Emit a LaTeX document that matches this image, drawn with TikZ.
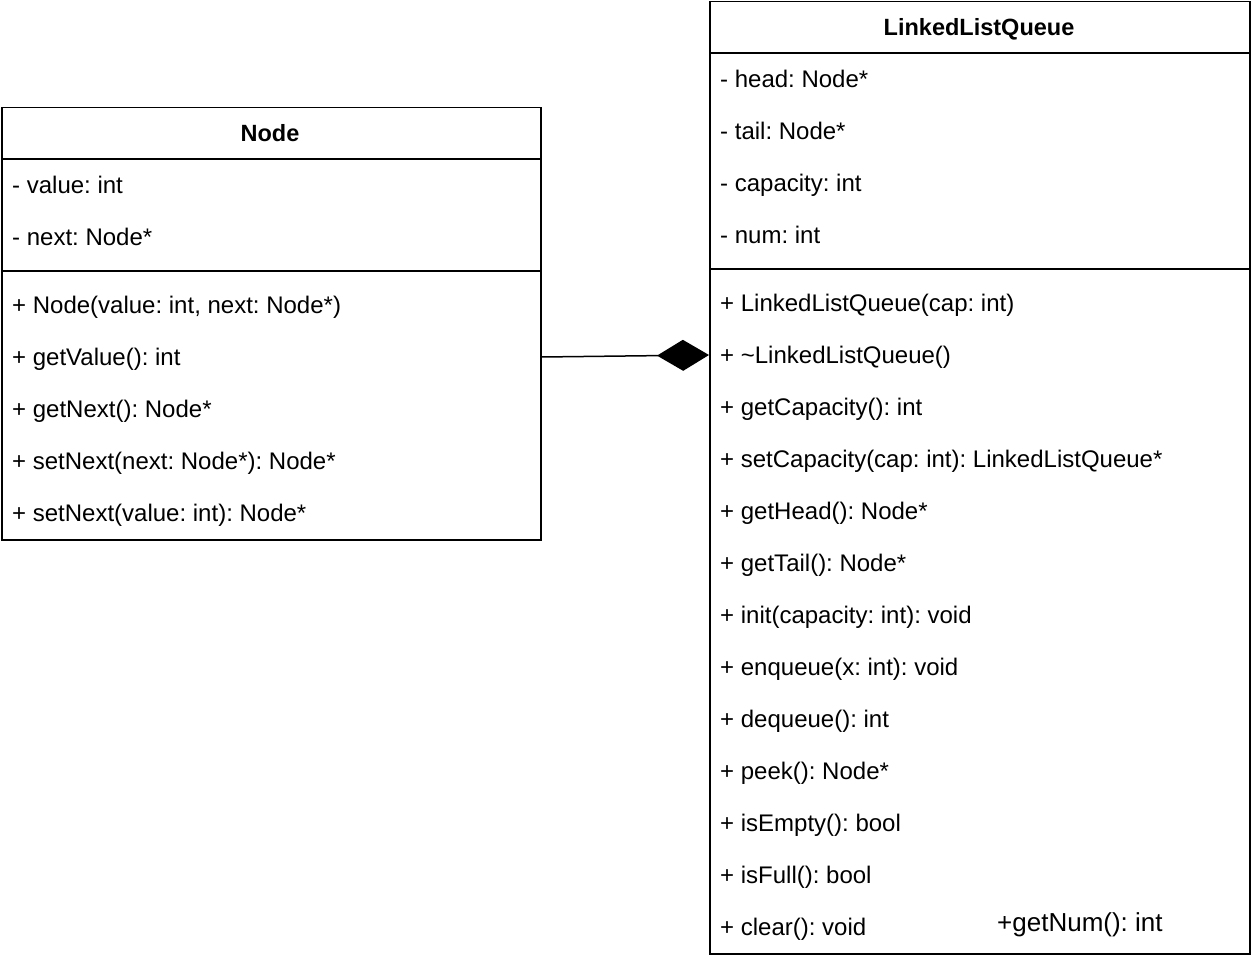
\documentclass[tikz,border=0pt]{standalone}
\usepackage{fontspec}
\setmainfont{Liberation Sans}
\usetikzlibrary{arrows.meta}
\begin{document}
\frenchspacing
\begin{tikzpicture}[x=1pt,y=-1pt,
  classbox/.style={draw, line width=1.5pt, inner sep=0pt, anchor=north west},
  sep/.style={line width=1.5pt},
  member/.style={anchor=west, inner sep=0pt, text height=19pt, text depth=2pt, font=\fontsize{24}{28}\selectfont},
  title/.style={inner sep=0pt, text height=19pt, text depth=2pt, font=\fontsize{23.5}{27}\selectfont\bfseries},
  comp/.style={line width=1.5pt, -{Diamond[length=52pt,width=31pt]}}]
\useasboundingbox (0,0) rectangle (1252,960);

% class Node
\node[classbox, minimum width=539pt, minimum height=432pt] (nodecls) at (1,107) {};
\draw[sep] (1,159) -- (540,159);
\draw[sep] (1,271) -- (540,271);
\node[title] (ntitle) at (270,133) {Node};
\node[member] (na1) at (12,185) {- value: int};
\node[member] (na2) at (12,237) {- next: Node*};
\node[member] (nm1) at (12,305) {+ Node(value: int, next: Node*)};
\node[member] (nm2) at (12,357) {+ getValue(): int};
\node[member] (nm3) at (12,409) {+ getNext(): Node*};
\node[member] (nm4) at (12,461) {+ setNext(next: Node*): Node*};
\node[member] (nm5) at (12,513) {+ setNext(value: int): Node*};

% class LinkedListQueue
\node[classbox, minimum width=540pt, minimum height=952pt] (llq) at (709,1) {};
\draw[sep] (709,53) -- (1249,53);
\draw[sep] (709,269) -- (1249,269);
\node[title] (ltitle) at (979,27) {LinkedListQueue};
\node[member] (la1) at (720,79) {- head: Node*};
\node[member] (la2) at (720,131) {- tail: Node*};
\node[member] (la3) at (720,183) {- capacity: int};
\node[member] (la4) at (720,235) {- num: int};
\node[member] (lm1) at (720,303) {+ LinkedListQueue(cap: int)};
\node[member] (lm2) at (720,355) {+ \textasciitilde LinkedListQueue()};
\node[member] (lm3) at (720,407) {+ getCapacity(): int};
\node[member] (lm4) at (720,459) {+ setCapacity(cap: int): LinkedListQueue*};
\node[member] (lm5) at (720,511) {+ getHead(): Node*};
\node[member] (lm6) at (720,563) {+ getTail(): Node*};
\node[member] (lm7) at (720,615) {+ init(capacity: int): void};
\node[member] (lm8) at (720,667) {+ enqueue(x: int): void};
\node[member] (lm9) at (720,719) {+ dequeue(): int};
\node[member] (lm10) at (720,771) {+ peek(): Node*};
\node[member] (lm11) at (720,823) {+ isEmpty(): bool};
\node[member] (lm12) at (720,875) {+ isFull(): bool};
\node[member] (lm13) at (720,927) {+ clear(): void};
\node[member, text height=20pt, font=\fontsize{26}{30}\selectfont] (lm14) at (997,922) {+getNum(): int};

% composition
\draw[comp] (nodecls.east |- nm2) -- (llq.west |- lm2);
\end{tikzpicture}
\end{document}
